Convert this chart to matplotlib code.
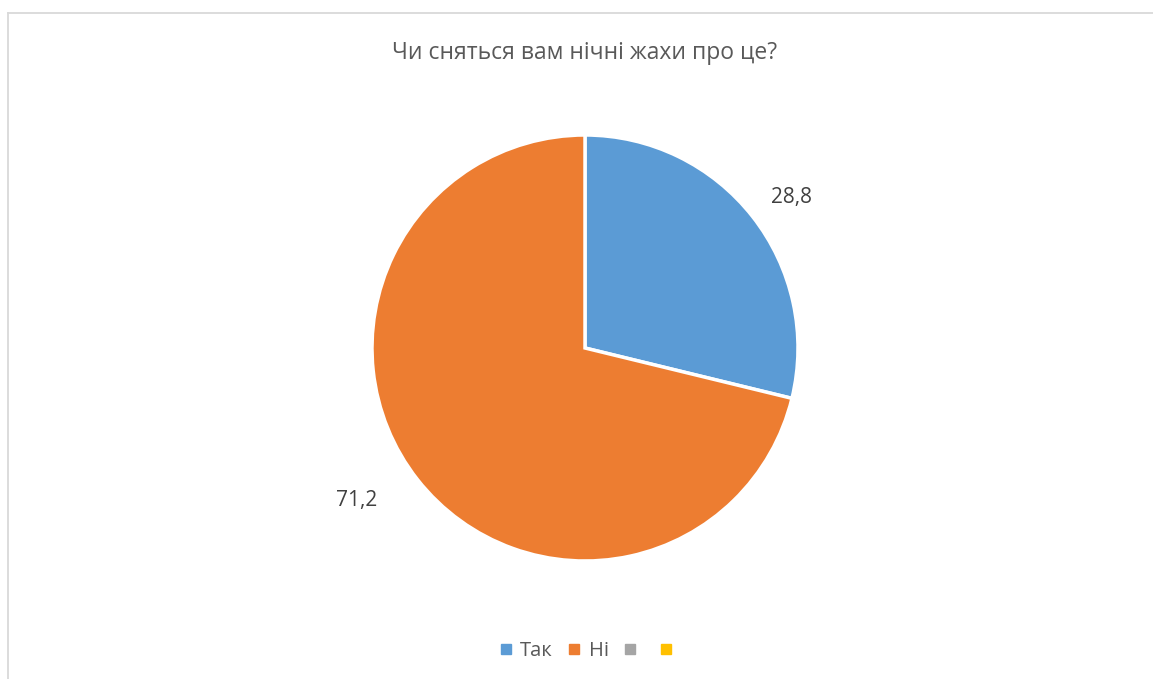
import numpy as np
import matplotlib.pyplot as plt
from matplotlib.lines import Line2D

plt.rcParams['font.family'] = ['Open Sans', 'DejaVu Sans']

# Дані
categories = ['Так', 'Ні', '', '']
values = [28.8, 71.2]
value_labels = ['28,8', '71,2']
colors = ['#5B9BD5', '#ED7D31', '#A5A5A5', '#FFC000']

W, H = 1153, 679
fig = plt.figure(figsize=(W / 100, H / 100), dpi=100)

# рамка області діаграми
fig.add_artist(Line2D([7.5 / W, 7.5 / W], [0, 1 - 12.5 / H], color='#d9d9d9', lw=1.3))
fig.add_artist(Line2D([7.5 / W, 1], [1 - 12.5 / H, 1 - 12.5 / H], color='#d9d9d9', lw=1.3))

cx, cy, r = 585, 348, 213
ax = fig.add_axes([(cx - r) / W, (H - cy - r) / H, 2 * r / W, 2 * r / H])

wedges, texts = ax.pie(values, labels=value_labels, colors=colors[:2],
                       startangle=90, counterclock=False,
                       wedgeprops=dict(edgecolor='white', linewidth=2.5),
                       textprops=dict(fontsize=15, color='#404040'))
# підписи даних розміщені як "найкраще розташування" в Excel
for w, t, d, shift in zip(wedges, texts, [1.2, 1.29], [-2, -4.5]):
    a = np.deg2rad((w.theta1 + w.theta2) / 2 + shift)
    t.set_position((d * np.cos(a), d * np.sin(a)))
    t.set_ha('center')
    t.set_va('center')
ax.set_xlim(-1, 1)
ax.set_ylim(-1, 1)
ax.set_aspect('equal')
ax.axis('off')

fig.text(cx / W, 1 - 53 / H, 'Чи сняться вам нічні жахи про це?',
         ha='center', va='center', fontsize=16.5, color='#595959')

handles = [Line2D([], [], marker='s', linestyle='', markersize=7,
                  markerfacecolor=c, markeredgecolor=c) for c in colors]
fig.legend(handles, categories, loc='center', bbox_to_anchor=(589 / W, 1 - 651 / H),
           ncol=4, frameon=False, fontsize=14.5, labelcolor='#595959',
           handlelength=0.8, handletextpad=0.3, columnspacing=0.68)

fig.savefig('out.png', dpi=100)
